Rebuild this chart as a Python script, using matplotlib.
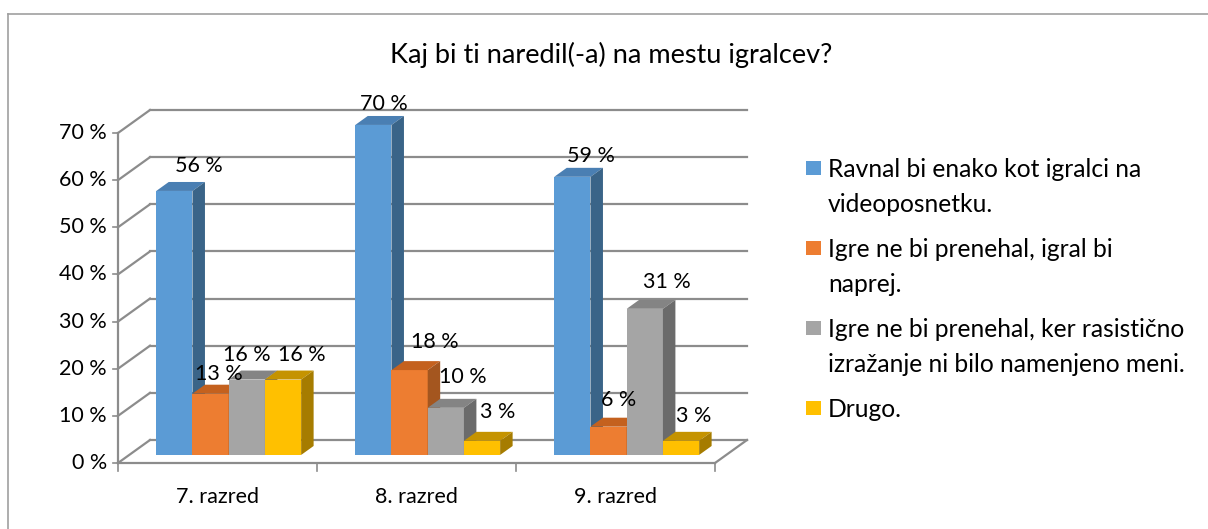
import matplotlib.pyplot as plt
from matplotlib.patches import Polygon, Rectangle

plt.rcParams['font.family'] = ['Lato', 'DejaVu Sans']

# podatki
razredi = ["7. razred", "8. razred", "9. razred"]
odgovori = [
    "Ravnal bi enako kot igralci na\nvideoposnetku.",
    "Igre ne bi prenehal, igral bi\nnaprej.",
    "Igre ne bi prenehal, ker rasistično\nizražanje ni bilo namenjeno meni.",
    "Drugo.",
]
ravnal = [56, 70, 59]
igral_naprej = [13, 18, 6]
ni_meni = [16, 10, 31]
drugo = [16, 3, 3]
serije = [ravnal, igral_naprej, ni_meni, drugo]
y_ticks = [0, 10, 20, 30, 40, 50, 60, 70]

# zamiki oznak (v pikslih) kot v Excelu: [razred][serija]
lab_dx = [[25, 8, 0, 19], [11, 25, 17, 16], [19, 10, 22, 13]]
lab_dy = [[25, 20, 25, 25], [21, 28, 31, 29], [21, 27, 27, 25]]

# barve: spredaj, zgoraj, stran
barve = [
    ("#5B9BD5", "#4A7FB3", "#3A6488"),
    ("#ED7D31", "#C4611E", "#A4561F"),
    ("#A5A5A5", "#848484", "#6B6B6B"),
    ("#FFC000", "#C59300", "#A67C00"),
]

W, H = 1208, 529
fig = plt.figure(figsize=(W / 100, H / 100), dpi=100)

# os v pikslih: x=0 -> 118 px, x=3 -> 715 px; y=0 -> 463 px, y=70 -> 133 px
px_x = (715 - 118) / 3
px_y = (463 - 133) / 70
ax_l, ax_r, ax_t, ax_b = 100, 760, 92, 472
ax = fig.add_axes([ax_l / W, (H - ax_b) / H, (ax_r - ax_l) / W, (ax_b - ax_t) / H])
ax.set_xlim((ax_l - 118) / px_x, (ax_r - 118) / px_x)
ax.set_ylim((463 - ax_b) / px_y, (463 - ax_t) / px_y)
ax.axis('off')

DX = 32 / px_x
DY = 23 / px_y
n = len(razredi)
grid_c = "#8C8C8C"
fs = 15.5

# stena in tla
for v in y_ticks:
    ax.plot([DX, n + DX], [v + DY, v + DY], color=grid_c, lw=1.6, zorder=1)
    ax.plot([0, DX], [v, v + DY], color=grid_c, lw=1.6, zorder=1)
    ax.plot([-5 / px_x, 0], [v, v], color=grid_c, lw=1.2, zorder=1)
ax.plot([0, 0], [0, y_ticks[-1]], color=grid_c, lw=1.6, zorder=1)
ax.plot([0, n], [0, 0], color=grid_c, lw=1.6, zorder=1)
ax.plot([n, n + DX], [0, DY], color=grid_c, lw=1.6, zorder=1)
for i in range(n + 1):
    ax.plot([i, i], [0, -8 / px_y], color=grid_c, lw=1.2, zorder=1)

for v in y_ticks:
    ax.text(-11 / px_x, v, f"{v} %", ha='right', va='center', fontsize=fs, color="#000000")
for i, r in enumerate(razredi):
    ax.text(i + 0.5, -34 / px_y, r, ha='center', va='center', fontsize=fs)

# stolpci
bw = 0.182
f0, f1 = 0.35, 0.74
z = 2
for i in range(n):
    for s, vals in enumerate(serije):
        v = vals[i]
        x0 = i + 0.5 - 2 * bw + s * bw + f0 * DX
        y0 = f0 * DY
        ddx = (f1 - f0) * DX
        ddy = (f1 - f0) * DY
        fc, tc, sc = barve[s]
        ax.add_patch(Rectangle((x0, y0), bw, v, facecolor=fc, edgecolor='none', zorder=z))
        ax.add_patch(Polygon([(x0, y0 + v), (x0 + bw, y0 + v), (x0 + bw + ddx, y0 + v + ddy),
                              (x0 + ddx, y0 + v + ddy)], closed=True, facecolor=tc,
                             edgecolor='none', zorder=z))
        ax.add_patch(Polygon([(x0 + bw, y0), (x0 + bw + ddx, y0 + ddy), (x0 + bw + ddx, y0 + v + ddy),
                              (x0 + bw, y0 + v)], closed=True, facecolor=sc,
                             edgecolor='none', zorder=z))
        z += 1
        ax.text(x0 + bw / 2 + lab_dx[i][s] / px_x, y0 + v + lab_dy[i][s] / px_y, f"{v} %",
                ha='center', va='center', fontsize=fs, zorder=50)

# naslov
fig.text(611 / W, 1 - 55 / H, "Kaj bi ti naredil(-a) na mestu igralcev?", ha='center', va='center',
         fontsize=19.5)

# legenda
for k, lab in enumerate(odgovori):
    yy = 168 + 80 * k
    fig.patches.append(Rectangle((806 / W, 1 - (yy + 7) / H), 15 / W, 14 / H, facecolor=barve[k][0],
                                 edgecolor='none', transform=fig.transFigure))
    for j, line in enumerate(lab.split("\n")):
        fig.text(828 / W, 1 - (yy + 9 + 35 * j) / H, line, ha='left', va='baseline', fontsize=17.7)

# okvir
fig.add_artist(plt.Line2D([8 / W, 8 / W], [0, 1 - 14 / H], color="#A0A0A0", lw=1.2,
                          transform=fig.transFigure))
fig.add_artist(plt.Line2D([8 / W, 1], [1 - 14 / H, 1 - 14 / H], color="#A0A0A0", lw=1.2,
                          transform=fig.transFigure))

fig.savefig("out.png", dpi=100)
